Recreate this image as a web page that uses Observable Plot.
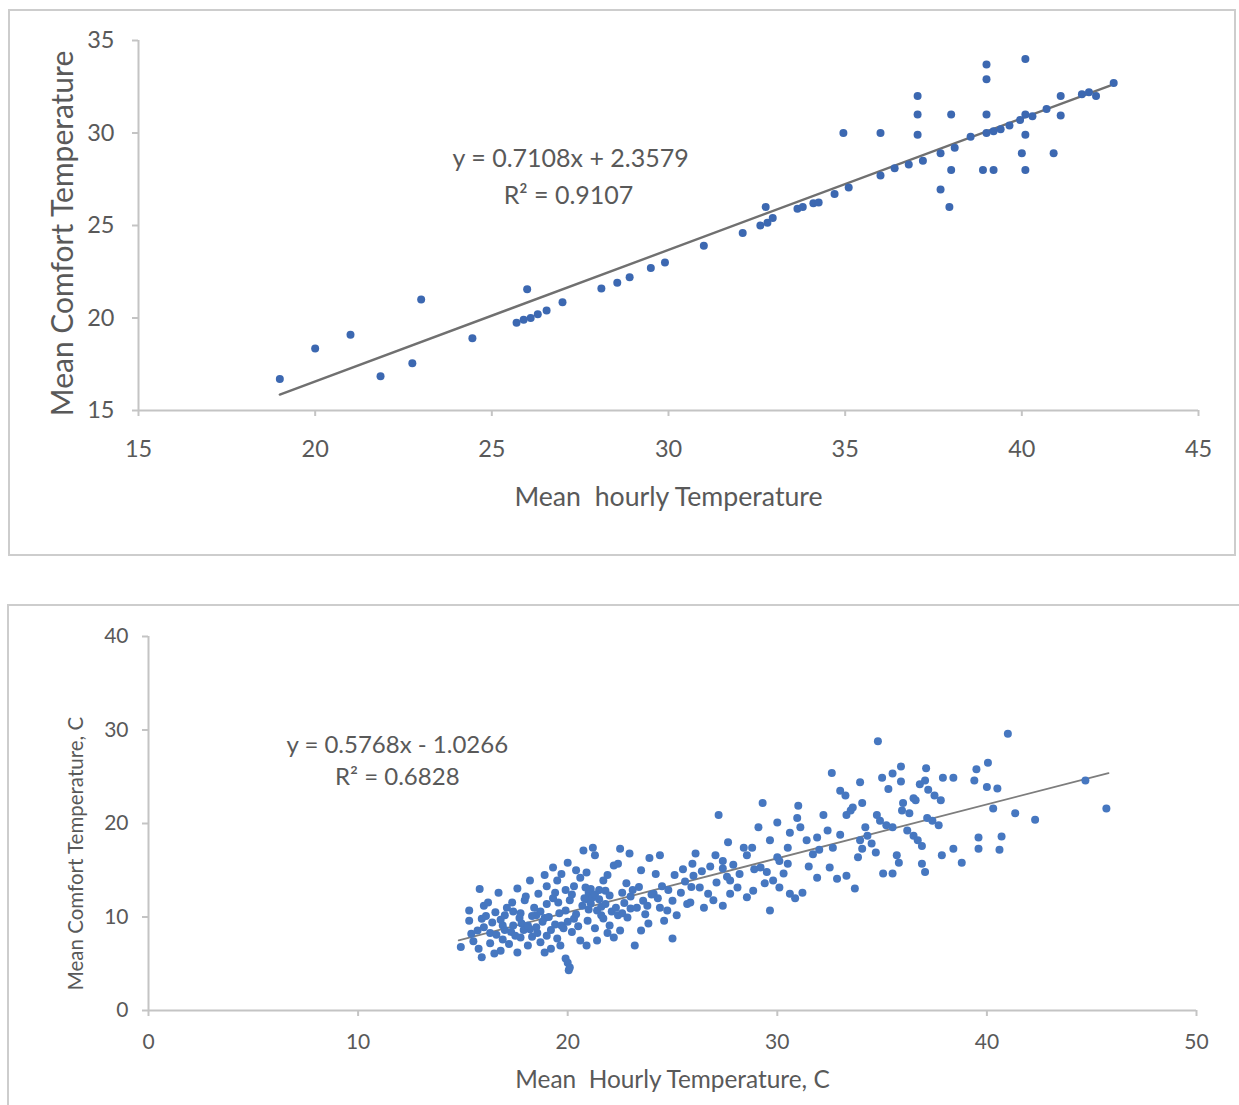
<!DOCTYPE html>
<html>
<head>
<meta charset="utf-8">
<script src="https://cdn.jsdelivr.net/npm/d3@7"></script>
<script src="https://cdn.jsdelivr.net/npm/@observablehq/plot@0.6"></script>
<style>
  html, body { margin: 0; padding: 0; background: #fff; }
  body { width: 1239px; height: 1105px; overflow: hidden; position: relative; }
  .panel { position: absolute; border: 2px solid #cdcdcd; box-sizing: border-box; }
  .chart { position: absolute; }
</style>
</head>
<body>
<div class="panel" style="left:8px;top:9px;width:1228px;height:547px"></div>
<div class="panel" style="left:7px;top:604px;width:1245px;height:520px"></div>
<div id="top" class="chart" style="left:10px;top:10px"></div>
<div id="bot" class="chart" style="left:10px;top:607px"></div>
<script>
// ---------- Top chart data ----------
const topPoints = [
  [19.0,16.7],[20.0,18.35],[21.0,19.1],[21.85,16.85],[22.75,17.55],[23.0,21.0],[24.45,18.9],
  [25.7,19.75],[25.9,19.9],[26.1,20.0],[26.3,20.2],[26.55,20.4],[26.0,21.55],[27.0,20.85],
  [28.1,21.6],[28.55,21.9],[28.9,22.2],[29.5,22.7],[29.9,23.0],[31.0,23.9],[32.1,24.6],
  [32.6,25.0],[32.8,25.15],[32.95,25.4],[32.75,26.0],[33.65,25.9],[33.8,26.0],[34.1,26.2],
  [34.25,26.25],[34.7,26.7],[35.1,27.05],
  [34.95,30.0],[36.0,30.0],[36.0,27.7],[36.4,28.1],[36.8,28.3],[37.2,28.5],
  [37.05,32.0],[37.05,31.0],[37.05,29.9],
  [37.7,28.9],[37.7,26.95],[37.95,26.0],[38.0,28.0],[38.0,31.0],[38.1,29.2],[38.55,29.8],
  [39.0,30.0],[39.2,30.1],[39.4,30.2],[39.65,30.4],[39.95,30.7],
  [39.0,33.7],[39.0,32.9],[39.0,31.0],[38.9,28.0],[39.2,28.0],
  [40.1,34.0],[40.1,31.0],[40.1,29.9],[40.0,28.9],[40.1,28.0],
  [40.3,30.9],[40.7,31.3],[40.9,28.9],[41.1,32.0],[41.1,30.95],
  [41.7,32.1],[41.9,32.2],[42.1,32.0],[42.6,32.7]
];
const topXTicks = [15, 20, 25, 30, 35, 40, 45];
const topYTicks = [15, 20, 25, 30, 35];
const topFit = { slope: 0.7108, intercept: 2.3579, from: 19, to: 42.5 };
const topLabels = ["y = 0.7108x + 2.3579", "R² = 0.9107"];
const topTitles = { x: "Mean  hourly Temperature", y: "Mean Comfort Temperature" };

// ---------- Bottom chart data ----------
const botPoints = [
  [14.9,6.8],[15.3,10.7],[15.3,9.6],[15.4,8.2],[15.5,7.4],[15.7,8.55],[15.75,6.6],[15.8,13.0],[15.9,5.7],[15.9,9.8],[16.0,8.9],[16.0,11.2],
  [16.1,10.1],[16.3,8.3],[16.9,9.1],[17.3,8.4],[17.4,10.6],[17.8,9.3],[18.2,8.7],[18.5,10.2],[18.9,9.9],[19.0,13.3],[19.2,8.6],[19.7,9.1],
  [16.2,11.55],[16.3,7.2],[16.4,9.4],[16.5,6.1],[16.55,10.5],[16.6,8.1],[16.7,12.6],[16.8,6.4],[16.8,9.7],[16.9,7.6],[17.0,8.6],[17.0,10.2],
  [17.1,11.0],[17.2,7.1],[17.35,11.55],[17.4,9.1],[17.5,8.0],[17.6,13.05],[17.6,6.2],[17.7,9.9],[17.75,10.4],[17.75,7.8],[17.9,8.6],[17.95,11.8],[18.0,12.2],
  [18.1,9.1],[18.1,6.95],[18.2,13.9],[18.3,10.1],[18.3,7.9],[18.4,11.0],[18.5,8.9],[18.55,8.3],[18.6,12.5],[18.7,7.3],[18.7,10.6],[18.8,9.5],[18.9,14.5],[18.9,6.2],[19.0,11.4],[19.0,8.0],
  [19.1,10.0],[19.2,6.6],[19.3,15.3],[19.3,12.0],[19.4,12.6],[19.4,9.2],[19.5,13.9],[19.5,7.7],[19.55,11.55],[19.6,10.4],[19.65,6.95],[19.7,14.6],[19.8,8.8],[19.9,5.55],[19.9,10.7],[19.9,12.9],[20.0,15.8],[20.0,5.1],[20.0,9.5],
  [20.05,4.3],[20.1,4.6],[20.1,11.8],[20.2,8.4],[20.2,12.4],[20.3,9.8],[20.3,13.3],[20.4,15.0],[20.4,10.3],[20.5,9.0],[20.6,14.2],[20.6,7.5],[20.7,11.2],[20.75,17.1],[20.8,12.0],[20.85,13.15],[20.9,14.75],[20.9,6.95],[20.9,11.9],[20.95,9.6],[21.0,12.6],[21.0,10.8],
  [21.1,11.45],[21.1,13.0],[21.2,12.1],[21.2,17.4],[21.3,16.6],[21.3,8.8],[21.3,12.4],[21.4,10.7],[21.4,7.5],[21.5,12.9],[21.5,11.9],[21.6,10.2],[21.6,11.1],[21.7,9.85],[21.7,13.9],[21.8,11.4],[21.8,12.8],[21.9,8.3],[21.9,14.5],[22.0,9.1],[22.0,12.3],
  [22.1,10.6],[22.2,15.5],[22.2,7.8],[22.3,11.0],[22.4,15.7],[22.4,10.2],[22.5,17.3],[22.5,8.55],[22.6,12.6],[22.6,10.4],[22.7,11.5],[22.8,13.6],[22.85,9.95],[22.95,16.8],[23.0,10.9],[23.0,12.2],
  [23.1,12.9],[23.2,6.95],[23.3,11.0],[23.4,13.2],[23.5,15.0],[23.5,8.55],[23.6,11.75],[23.7,10.3],[23.8,11.2],[23.85,9.3],[23.9,16.3],[24.0,12.4],[24.1,12.5],[24.2,14.6],[24.3,12.0],
  [24.4,16.6],[24.4,11.0],[24.5,13.3],[24.6,9.6],[24.75,10.7],[24.8,12.9],[25.0,11.75],[25.0,7.7],[25.1,14.5],[25.2,10.2],
  [25.4,12.6],[25.5,15.1],[25.6,13.8],[25.7,11.4],[25.85,11.55],[25.9,13.2],[25.95,15.7],[26.0,14.4],[26.1,16.8],
  [26.3,13.15],[26.4,14.9],[26.5,11.0],[26.7,12.5],[26.8,15.4],[26.95,11.8],[27.05,16.6],[27.2,20.9],[27.1,13.7],
  [27.4,16.0],[27.4,15.2],[27.4,11.2],[27.6,14.3],[27.65,18.0],[27.75,13.9],[27.75,12.5],[27.9,15.6],
  [28.1,13.15],[28.2,14.6],[28.4,17.4],[28.55,16.6],[28.55,12.1],[28.8,17.4],[28.85,12.8],[28.9,15.1],
  [29.1,19.6],[29.2,15.3],[29.3,22.2],[29.4,13.6],[29.5,14.8],[29.65,18.2],[29.65,10.7],[29.8,13.9],[30.0,20.1],[30.0,16.4],
  [30.1,16.0],[30.1,13.15],[30.3,14.65],[30.5,15.7],[30.5,17.4],[30.6,19.0],[30.6,12.5],[30.85,12.0],[30.95,20.6],[31.0,21.9],
  [31.1,19.6],[31.2,12.6],[31.4,18.2],[31.5,15.4],[31.7,16.7],[31.9,18.5],[31.9,14.2],[32.0,17.2],
  [32.2,20.9],[32.4,19.25],[32.5,15.3],[32.6,25.4],[32.65,17.4],[32.85,14.1],[33.0,23.5],[33.0,18.8],
  [33.25,23.0],[33.3,14.4],[33.3,20.9],[33.5,21.4],[33.6,21.7],[33.7,13.05],[33.85,16.4],[33.95,18.2],[33.95,24.4],
  [34.05,22.2],[34.05,17.3],[34.2,19.6],[34.3,18.7],[34.5,17.85],[34.7,16.9],[34.75,20.9],[34.8,28.8],[34.9,20.3],[35.0,24.9],[35.05,14.65],
  [35.2,19.8],[35.3,23.7],[35.5,25.35],[35.5,19.6],[35.5,14.65],[35.7,16.6],[35.8,15.8],[35.9,26.1],[35.9,24.5],[35.95,21.4],[36.0,22.2],
  [36.2,19.25],[36.3,21.1],[36.5,22.7],[36.5,18.7],[36.6,22.5],[36.7,18.2],[36.8,24.2],[36.9,17.6],[36.9,15.7],[37.05,14.8],[37.05,24.6],[37.1,25.9],
  [37.15,20.6],[37.2,23.6],[37.4,20.3],[37.5,23.0],[37.7,19.8],[37.8,22.5],[37.85,16.6],[37.9,24.9],
  [38.4,24.9],[38.4,17.3],[38.8,15.8],[39.4,24.6],[39.5,25.8],[39.6,18.5],[39.6,17.3],[40.0,23.9],[40.05,26.5],[40.3,21.6],
  [40.5,23.75],[40.6,17.2],[40.7,18.6],[41.0,29.6],[41.35,21.1],[42.3,20.4],[44.7,24.6],[45.7,21.6]
];
const botXTicks = [0, 10, 20, 30, 40, 50];
const botYTicks = [0, 10, 20, 30, 40];
const botFit = { slope: 0.5768, intercept: -1.0266, from: 14.8, to: 45.8 };
const botLabels = ["y = 0.5768x - 1.0266", "R² = 0.6828"];
const botTitles = { x: "Mean  Hourly Temperature, C", y: "Mean Comfort Temperature, C" };

// ---------- Drawing ----------
const FONT = "Lato, 'Liberation Sans', sans-serif";
const AXIS = "#c4c4c4";
const TEXT = "#595959";

function drawChart(el, o) {
  const trend = [o.fit.from, o.fit.to].map(x => ({ x, y: o.fit.slope * x + o.fit.intercept }));
  const svg = Plot.plot({
    width: o.width, height: o.height,
    marginLeft: o.ml, marginRight: o.mr, marginTop: o.mt, marginBottom: o.mb,
    style: { fontFamily: FONT, background: "transparent", overflow: "visible" },
    x: { domain: [o.xTicks[0], o.xTicks[o.xTicks.length - 1]] },
    y: { domain: [o.yTicks[0], o.yTicks[o.yTicks.length - 1]] },
    marks: [
      Plot.ruleY([o.yTicks[0]], { stroke: AXIS, strokeWidth: 2 }),
      Plot.ruleX([o.xTicks[0]], { stroke: AXIS, strokeWidth: 2 }),
      Plot.axisX(o.xTicks, { anchor: "bottom", tickSize: 6, tickPadding: o.xPad, stroke: AXIS, strokeWidth: 2,
        fill: TEXT, fontSize: o.tickFont, label: null, tickFormat: d => String(d) }),
      Plot.axisY(o.yTicks, { anchor: "left", tickSize: 6, tickPadding: o.yPad, stroke: AXIS, strokeWidth: 2,
        fill: TEXT, fontSize: o.tickFont, label: null, tickFormat: d => String(d) }),
      Plot.line(trend, { x: "x", y: "y", stroke: o.lineColor, strokeWidth: o.lineWidth }),
      Plot.dot(o.points, { x: d => d[0], y: d => d[1], r: o.r, fill: o.dotColor }),
      Plot.text([o.labels[0]], { x: o.eq[0], y: o.eq[1], text: d => d, fill: TEXT, fontSize: o.eqFont }),
      Plot.text([o.labels[1]], { x: o.eq[2], y: o.eq[3], text: d => d, fill: TEXT, fontSize: o.eqFont }),
      Plot.text([o.titles.x], { frameAnchor: "bottom", lineAnchor: "middle", textAnchor: "middle", dy: o.xTitleDy,
        text: d => d, fill: TEXT, fontSize: o.xTitleFont }),
      Plot.text([o.titles.y], { frameAnchor: "left", lineAnchor: "middle", textAnchor: "middle", rotate: -90,
        dx: o.yTitleDx, dy: o.yTitleDy, text: d => d, fill: TEXT, fontSize: o.yTitleFont })
    ]
  });
  document.getElementById(el).appendChild(svg);
}

drawChart("top", {
  points: topPoints, xTicks: topXTicks, yTicks: topYTicks, fit: topFit, labels: topLabels, titles: topTitles,
  width: 1225, height: 545, ml: 128, mr: 37, mt: 30, mb: 145,
  xPad: 24, yPad: 18, tickFont: 23.5,
  eq: [27.23, 28.62, 27.17, 26.57], eqFont: 25,
  xTitleDy: 87, xTitleFont: 26.7,
  yTitleDx: -75, yTitleDy: 8, yTitleFont: 30,
  r: 4, dotColor: "#3c68b1", lineColor: "#707070", lineWidth: 2.4
});

drawChart("bot", {
  points: botPoints, xTicks: botXTicks, yTicks: botYTicks, fit: botFit, labels: botLabels, titles: botTitles,
  width: 1229, height: 498, ml: 138, mr: 43, mt: 29, mb: 95,
  xPad: 18, yPad: 14, tickFont: 21,
  eq: [11.87, 28.34, 11.87, 24.92], eqFont: 24,
  xTitleDy: 70, xTitleFont: 24.4,
  yTitleDx: -72, yTitleDy: 30, yTitleFont: 20.5,
  r: 4, dotColor: "#4677c0", lineColor: "#7d7d7d", lineWidth: 1.8
});
</script>
</body>
</html>
